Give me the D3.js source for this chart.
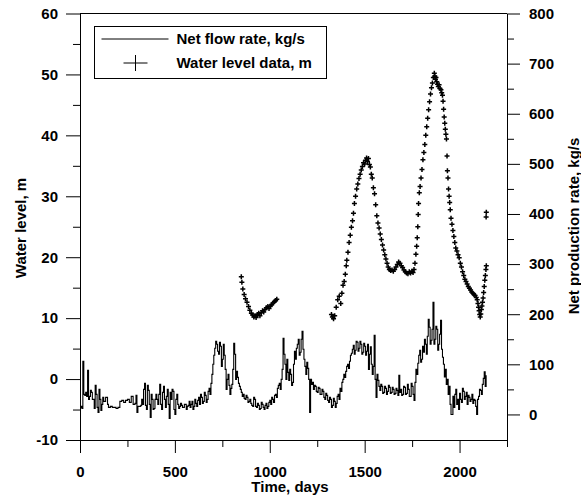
<!DOCTYPE html>
<html>
<head>
<meta charset="utf-8">
<script src="https://cdn.jsdelivr.net/npm/d3@7"></script>
<style>
  body { margin: 0; background: #fff; }
  text { font-family: "Liberation Sans", Arial, sans-serif; font-weight: bold; }
</style>
</head>
<body>
<script>
// Net flow rate (kg/s), one reading every 5 days starting at day 0
const flowStartDay = 0;
const flowStepDays = 5;
const flowRate = [
    14, 16, 12, 106, 40, 38, 44, 36, 88, 30, 36, 48, 44, 30, 30, 12, 58, 40, 14, 4,
    50, 30, 8, 20, 34, 26, 26, 34, 34, 20, 14, 14, 16, 16, 14, 14, 14, 14, 12, 12,
    14, 14, 26, 26, 28, 28, 24, 24, 28, 28, 30, 30, 24, 24, 36, 36, 20, 20, 22, 38,
    4, 16, 16, 16, 18, 30, 20, 50, 62, 18, 10, 58, 48, 20, -6, 40, 30, 10, 12, 30,
    40, 30, 20, 40, 60, 20, 10, 44, 56, 30, 14, 36, 50, 20, -8, 44, 30, 50, 46, 10,
    0, 30, 40, 20, 12, 16, 22, 18, 14, 14, 20, 20, 10, 16, 18, 26, 14, 20, 26, 10,
    16, 30, 22, 16, 28, 34, 20, 40, 34, 22, 26, 44, 38, 24, 30, 46, 52, 40, 62, 80,
    100, 118, 132, 146, 140, 126, 120, 144, 136, 96, 110, 140, 118, 90, 50, 70, 80, 58, 40, 52,
    60, 90, 142, 120, 70, 86, 74, 62, 56, 50, 44, 36, 40, 32, 30, 38, 34, 24, 26, 30,
    22, 18, 16, 34, 30, 16, 14, 22, 18, 10, 12, 24, 20, 14, 10, 18, 22, 12, 16, 24,
    28, 20, 34, 30, 24, 38, 40, 34, 52, 58, 62, 50, 70, 90, 152, 120, 100, 70, 110, 84,
    68, 90, 80, 58, 64, 100, 126, 110, 132, 140, 150, 118, 124, 150, 166, 130, 110, 96, 80, 104,
    92, 70, 4, 70, 60, 64, 50, 58, 56, 46, 44, 54, 52, 40, 40, 50, 46, 34, 30, 42,
    38, 28, 24, 34, 30, 14, 18, 32, 26, 14, 22, 36, 40, 30, 52, 46, 64, 70, 80, 74,
    86, 96, 100, 92, 106, 118, 122, 130, 138, 120, 128, 146, 144, 126, 132, 146, 140, 120, 124, 142,
    136, 118, 126, 140, 90, 120, 135, 100, 80, 96, 158, 70, 34, 80, 68, 56, 48, 60, 56, 42,
    44, 56, 52, 40, 46, 58, 54, 42, 44, 54, 50, 40, 42, 52, 48, 38, 78, 44, 50, 38,
    40, 56, 54, 40, 42, 60, 50, 36, 36, 62, 56, 40, 28, 64, 90, 80, 102, 118, 128, 104,
    110, 136, 124, 150, 140, 120, 156, 190, 174, 140, 148, 170, 224, 140, 150, 176, 170, 128, 140, 160,
    188, 130, 114, 100, 75, 90, 60, 70, 40, 56, 20, 0, 0, 36, 14, 40, 50, 20, 30, 10,
    42, 30, 24, 52, 46, 30, 36, 44, 20, 38, 34, 26, 30, 40, 22, 30, 28, 16, 0, 30,
    36, 50, 48, 40, 60, 72, 85, 56, 78
];

// Water level data (m): [day, level]
const waterLevelA = [
    [850, 16.8], [853, 15.9], [858, 14.8], [865, 13.9], [872, 13.2], [880, 12.6],
    [888, 11.9], [895, 11.3], [903, 10.8], [910, 10.5], [916, 10.2], [922, 10.4],
    [928, 10.1], [935, 10.6], [942, 10.8], [948, 10.4], [955, 10.9], [962, 11.2],
    [968, 11.0], [975, 11.4], [982, 11.7], [990, 11.9], [996, 11.6], [1003, 12.0],
    [1010, 12.2], [1017, 12.5], [1024, 12.7], [1031, 12.9], [1037, 13.1]
];
const waterLevelB = [
    [1325, 10.6], [1330, 10.2], [1336, 9.9], [1342, 10.4], [1350, 11.8], [1358, 13.0],
    [1366, 13.6], [1374, 12.4], [1380, 14.1], [1386, 15.4], [1392, 16.0], [1398, 17.2],
    [1403, 18.6], [1406, 19.5], [1412, 20.8], [1418, 22.4], [1424, 23.6], [1430, 24.9],
    [1436, 26.0], [1441, 27.2], [1446, 28.8], [1452, 30.0], [1458, 31.2], [1464, 32.0],
    [1470, 32.9], [1476, 33.6], [1482, 34.3], [1488, 34.9], [1494, 35.5], [1500, 35.3],
    [1505, 35.9], [1510, 36.3], [1515, 35.7], [1520, 36.2], [1525, 35.2], [1530, 34.8],
    [1535, 33.6], [1540, 33.0], [1546, 31.4], [1552, 30.4], [1558, 28.6], [1564, 26.8],
    [1570, 25.6], [1576, 24.8], [1582, 23.8], [1588, 22.9], [1594, 22.0], [1600, 21.2],
    [1606, 20.4], [1612, 19.7], [1618, 19.0], [1624, 18.4], [1630, 18.0], [1637, 17.8],
    [1644, 17.9], [1651, 17.7], [1658, 18.0], [1665, 18.4], [1672, 18.8], [1679, 19.2],
    [1686, 19.0], [1693, 18.6], [1700, 18.3], [1707, 17.9], [1714, 17.6], [1721, 17.4],
    [1728, 17.3], [1735, 17.6], [1742, 17.4], [1749, 17.7], [1755, 17.5], [1760, 18.0],
    [1765, 19.0], [1770, 20.5], [1774, 21.8], [1777, 23.2], [1780, 25.0], [1782, 27.0],
    [1784, 28.8], [1788, 30.6], [1792, 31.6], [1797, 33.0], [1802, 34.4], [1807, 36.0],
    [1812, 37.2], [1817, 38.5], [1822, 40.0], [1827, 41.4], [1832, 42.8], [1837, 44.2],
    [1842, 45.5], [1847, 46.8], [1852, 47.8], [1857, 48.6], [1862, 49.5], [1867, 50.2],
    [1870, 49.7], [1873, 49.2], [1876, 49.5], [1880, 48.8], [1884, 48.4], [1888, 48.0],
    [1892, 48.3], [1897, 47.7], [1902, 47.5], [1906, 47.0], [1910, 46.6], [1913, 45.6],
    [1916, 44.3], [1919, 43.0], [1922, 42.0], [1925, 41.0], [1928, 40.2], [1931, 39.4],
    [1934, 36.6], [1936, 34.2], [1939, 33.0], [1942, 31.2], [1945, 30.0], [1948, 29.0],
    [1951, 27.8], [1955, 26.4], [1960, 25.4], [1965, 24.4], [1970, 23.4], [1975, 22.4],
    [1980, 21.5], [1986, 21.0], [1992, 20.4], [1998, 19.9], [2004, 19.0], [2010, 18.4],
    [2016, 17.6], [2022, 17.0], [2028, 16.4], [2034, 16.0], [2040, 15.6], [2046, 15.2],
    [2052, 14.9], [2058, 14.6], [2064, 14.3], [2070, 14.1], [2076, 13.9], [2082, 13.7],
    [2088, 13.4], [2093, 13.0], [2097, 12.4], [2100, 11.8], [2103, 11.2], [2106, 10.6],
    [2109, 10.2], [2112, 10.7], [2115, 11.4], [2118, 12.0], [2121, 12.6], [2124, 13.3],
    [2127, 14.2], [2130, 15.2], [2133, 16.2], [2136, 17.0], [2139, 18.0], [2141, 18.6],
    [2140, 26.6], [2141, 27.4]
];

const legendLabels = ["Net flow rate, kg/s", "Water level data, m"];
const xTitle = "Time, days";
const yLeftTitle = "Water level, m";
const yRightTitle = "Net production rate, kg/s";

const xMajor = [0, 500, 1000, 1500, 2000];
const xMinor = [250, 750, 1250, 1750, 2250];
const yLeftMajor = [-10, 0, 10, 20, 30, 40, 50, 60];
const yLeftMinor = [-5, 5, 15, 25, 35, 45, 55];
const yRightMajor = [0, 100, 200, 300, 400, 500, 600, 700, 800];
const yRightMinor = [50, 150, 250, 350, 450, 550, 650, 750];

const width = 581;
const height = 497;
const plot = { left: 80, right: 507, top: 13.5, bottom: 440 };

const x = d3.scaleLinear().domain([0, 2250]).range([plot.left, plot.right]);
const yLeft = d3.scaleLinear().domain([-10, 60]).range([plot.bottom, plot.top]);
const yRight = d3.scaleLinear().domain([-51, 800]).range([plot.bottom, plot.top]);

const svg = d3.select("body")
    .append("svg")
    .attr("width", width)
    .attr("height", height);

// flow rate as a step line
const flowData = flowRate.map((v, i) => ({ day: flowStartDay + i * flowStepDays, v: v }));
const flowLine = d3.line()
    .x(d => x(d.day))
    .y(d => yRight(d.v))
    .curve(d3.curveStepAfter);

svg.append("path")
    .datum(flowData)
    .attr("d", flowLine)
    .attr("fill", "none")
    .attr("stroke", "#000")
    .attr("stroke-width", 1.1);

// water level crosses
const pts = waterLevelA.concat(waterLevelB);
const s = 2.5;
svg.append("g")
    .selectAll("path")
    .data(pts)
    .enter()
    .append("path")
    .attr("d", d => `M${x(d[0]) - s},${yLeft(d[1])}H${x(d[0]) + s}M${x(d[0])},${yLeft(d[1]) - s}V${yLeft(d[1]) + s}`)
    .attr("stroke", "#000")
    .attr("stroke-width", 1.5)
    .attr("fill", "none");

// axes
function styleAxis(g) {
    g.selectAll("path.domain").attr("stroke", "#000").attr("stroke-width", 1);
    g.selectAll(".tick line").attr("stroke", "#000").attr("stroke-width", 1);
    g.selectAll(".tick text").attr("fill", "#000")
        .style("font-size", "15px").style("font-weight", "bold")
        .style("font-family", '"Liberation Sans", Arial, sans-serif');
}
const fmt = d => String(d);

const gx = svg.append("g").attr("transform", `translate(0,${plot.bottom})`)
    .call(d3.axisBottom(x).tickValues(xMajor).tickSize(13).tickSizeOuter(0).tickPadding(13).tickFormat(fmt));
styleAxis(gx);
const gxm = svg.append("g").attr("transform", `translate(0,${plot.bottom})`)
    .call(d3.axisBottom(x).tickValues(xMinor).tickSize(7).tickFormat(""));
gxm.select(".domain").remove();
styleAxis(gxm);

const gl = svg.append("g").attr("transform", `translate(${plot.left},0)`)
    .call(d3.axisLeft(yLeft).tickValues(yLeftMajor).tickSize(14).tickSizeOuter(0).tickPadding(8).tickFormat(fmt));
styleAxis(gl);
const glm = svg.append("g").attr("transform", `translate(${plot.left},0)`)
    .call(d3.axisLeft(yLeft).tickValues(yLeftMinor).tickSize(7).tickFormat(""));
glm.select(".domain").remove();
styleAxis(glm);

const gr = svg.append("g").attr("transform", `translate(${plot.right},0)`)
    .call(d3.axisRight(yRight).tickValues(yRightMajor).tickSize(13).tickSizeOuter(0).tickPadding(9).tickFormat(fmt));
styleAxis(gr);
const grm = svg.append("g").attr("transform", `translate(${plot.right},0)`)
    .call(d3.axisRight(yRight).tickValues(yRightMinor).tickSize(7).tickFormat(""));
grm.select(".domain").remove();
styleAxis(grm);

// top border
svg.append("line")
    .attr("x1", x(0)).attr("x2", x(2250))
    .attr("y1", yLeft(60)).attr("y2", yLeft(60))
    .attr("stroke", "#000");

// axis titles
svg.append("text")
    .attr("x", 290).attr("y", 492)
    .attr("text-anchor", "middle")
    .style("font-size", "15px")
    .text(xTitle);

svg.append("text")
    .attr("transform", "translate(26,228) rotate(-90)")
    .attr("text-anchor", "middle")
    .style("font-size", "15px")
    .text(yLeftTitle);

svg.append("text")
    .attr("transform", "translate(579,226) rotate(-90)")
    .attr("text-anchor", "middle")
    .style("font-size", "15px")
    .text(yRightTitle);

// legend
const legend = svg.append("g").attr("transform", "translate(94.5,26.5)");
legend.append("rect")
    .attr("width", 232).attr("height", 52)
    .attr("fill", "#fff").attr("stroke", "#000");
legend.append("line")
    .attr("x1", 7).attr("x2", 74).attr("y1", 12.5).attr("y2", 12.5)
    .attr("stroke", "#000").attr("stroke-width", 1);
legend.append("path")
    .attr("d", "M29,36.5H53M41,28.5V44.5")
    .attr("stroke", "#000").attr("fill", "none");
legend.selectAll("text.lab")
    .data(legendLabels)
    .enter()
    .append("text")
    .attr("class", "lab")
    .attr("x", 82)
    .attr("y", (d, i) => 12.5 + i * 24)
    .attr("dy", "0.36em")
    .style("font-size", "15px")
    .text(d => d);
</script>
</body>
</html>
